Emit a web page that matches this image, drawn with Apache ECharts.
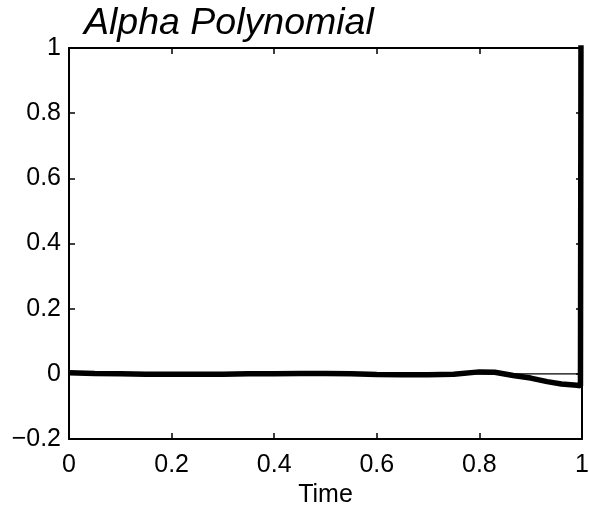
<!DOCTYPE html>
<html>
<head>
<meta charset="utf-8">
<script src="https://cdn.jsdelivr.net/npm/echarts@6/dist/echarts.min.js"></script>
<style>
html,body{margin:0;padding:0;background:#fff;}
#chart{width:589px;height:507px;}
</style>
</head>
<body>
<div id="chart"></div>
<script>
var titleText = 'Alpha Polynomial';
var xAxisName = 'Time';
var timeValues = [0, 0.05, 0.1, 0.15, 0.2, 0.25, 0.3, 0.35, 0.4, 0.45, 0.5, 0.55, 0.6, 0.65, 0.7, 0.75, 0.8, 0.83, 0.866, 0.9, 0.932, 0.96, 0.99, 0.997, 0.998];
var alphaValues = [0.003, 0.001, 0, -0.001, -0.001, -0.001, -0.001, 0, 0, 0.001, 0.001, 0, -0.002, -0.003, -0.003, -0.001, 0.006, 0.005, -0.005, -0.013, -0.024, -0.031, -0.035, -0.037, 1.05];
var zeroLineX = [0, 1];
var zeroLineY = [0, 0];

var curve = timeValues.map(function (t, i) { return [t, alphaValues[i]]; });
var zeroLine = zeroLineX.map(function (t, i) { return [t, zeroLineY[i]]; });

function fmt(v) {
  var r = Math.round(v * 10) / 10;
  return String(r).replace('-', '\u2212');
}

var fontFam = '"Liberation Sans", Arial, Helvetica, sans-serif';
var chart = echarts.init(document.getElementById('chart'), null, {renderer: 'canvas'});
var axisLineStyle = {show: true, onZero: false, lineStyle: {color: '#000', width: 2}};
var tickStyle = {show: true, inside: true, length: 6, lineStyle: {color: '#000', width: 1.5}};
chart.setOption({
  backgroundColor: '#fff',
  animation: false,
  title: {
    text: titleText,
    left: 79, top: 0,
    textStyle: {fontFamily: fontFam, fontStyle: 'italic', fontWeight: 'normal', fontSize: 37.5, color: '#000'}
  },
  grid: {left: 69, right: 7, top: 48, bottom: 68, containLabel: false, outerBoundsMode: 'none'},
  xAxis: [{
    type: 'value', min: 0, max: 1, interval: 0.2, position: 'bottom',
    name: xAxisName, nameLocation: 'middle', nameGap: 43,
    nameTextStyle: {fontFamily: fontFam, fontSize: 25, color: '#000'},
    axisLine: axisLineStyle, axisTick: tickStyle, splitLine: {show: false},
    axisLabel: {formatter: fmt, fontFamily: fontFam, fontSize: 25, color: '#000', margin: 14}
  }, {
    type: 'value', min: 0, max: 1, interval: 0.2, position: 'top',
    axisLine: axisLineStyle, axisTick: tickStyle, splitLine: {show: false}, axisLabel: {show: false}
  }],
  yAxis: [{
    type: 'value', min: -0.2, max: 1, interval: 0.2, position: 'left',
    axisLine: axisLineStyle, axisTick: tickStyle, splitLine: {show: false},
    axisLabel: {formatter: fmt, fontFamily: fontFam, fontSize: 25, color: '#000', margin: 8}
  }, {
    type: 'value', min: -0.2, max: 1, interval: 0.2, position: 'right',
    axisLine: axisLineStyle, axisTick: tickStyle, splitLine: {show: false}, axisLabel: {show: false}
  }],
  series: [{
    type: 'line', data: zeroLine, showSymbol: false, silent: true,
    xAxisIndex: 1, yAxisIndex: 1,
    lineStyle: {color: '#000', width: 1.2}
  }, {
    type: 'line', data: curve, showSymbol: false, smooth: false, silent: true, clip: true,
    xAxisIndex: 0, yAxisIndex: 0,
    lineStyle: {color: '#000', width: 5.5}
  }]
});
</script>
</body>
</html>
